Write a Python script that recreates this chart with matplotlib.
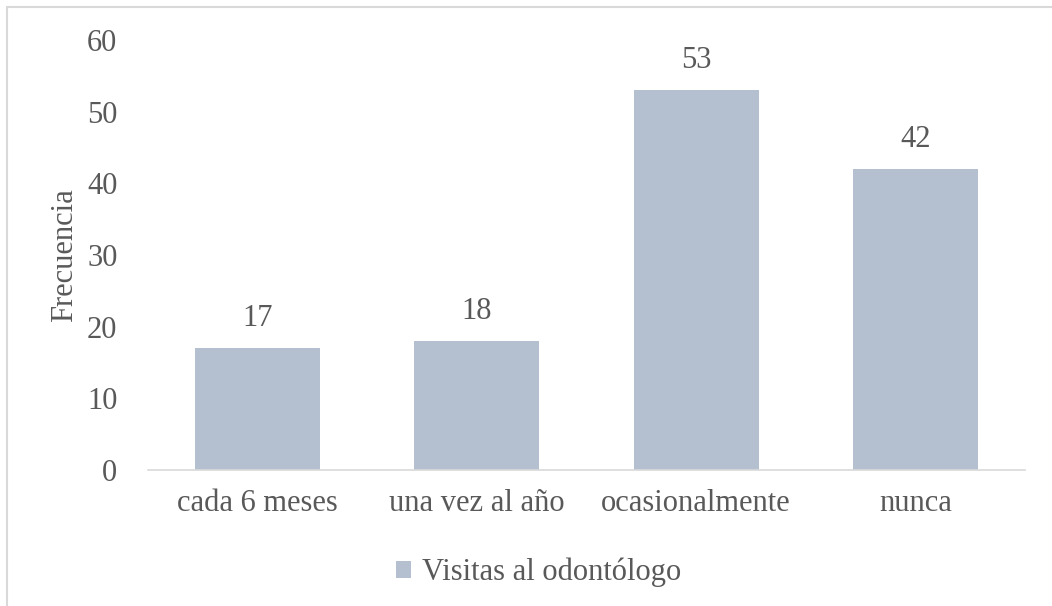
import matplotlib.pyplot as plt
from matplotlib.patches import Rectangle

# data
categories = ["cada 6 meses", "una vez al año", "ocasionalmente", "nunca"]
values = [17, 18, 53, 42]
series_name = "Visitas al odontólogo"

bar_color = "#b4c0d0"
text_color = "#595959"

plt.rcParams["font.family"] = ["Liberation Serif", "DejaVu Serif"]
fs = 22

fig = plt.figure(figsize=(10.52, 6.06), dpi=100)
ax = fig.add_axes([148 / 1052, 1 - 470 / 606, (1025 - 148) / 1052, 430 / 606])

x = range(len(categories))
bars = ax.bar(x, values, width=0.57, color=bar_color, label=series_name, zorder=2)

for xi, v in zip(x, values):
    ax.text(xi, v + 2.1, str(v), ha="center", va="bottom", fontsize=fs, color=text_color)

ax.set_xlim(-0.5, len(categories) - 0.5)
ax.set_ylim(0, 60)
ax.set_yticks(range(0, 61, 10))
ax.set_xticks(list(x))
ax.set_xticklabels(categories)
ax.tick_params(axis="both", length=0, labelsize=fs, colors=text_color)
ax.tick_params(axis="y", pad=22)
ax.tick_params(axis="x", pad=14)

for side in ["top", "right", "left"]:
    ax.spines[side].set_visible(False)
ax.spines["bottom"].set_color("#d9d9d9")
ax.spines["bottom"].set_linewidth(1.2)

ax.set_ylabel("Frecuencia", fontsize=fs, color=text_color, labelpad=6)

leg = ax.legend(loc="upper center", bbox_to_anchor=(0.445, -0.14), frameon=False,
                fontsize=fs, handlelength=0.5, handleheight=0.5, handletextpad=0.35,
                labelcolor=text_color)

# outer chart border
fig.patches.append(Rectangle((7 / 1052, -0.01), 1.02, 1 - 7 / 606 + 0.01,
                             transform=fig.transFigure, fill=False,
                             edgecolor="#d9d9d9", linewidth=1.5))

fig.savefig("out.png", dpi=100)
